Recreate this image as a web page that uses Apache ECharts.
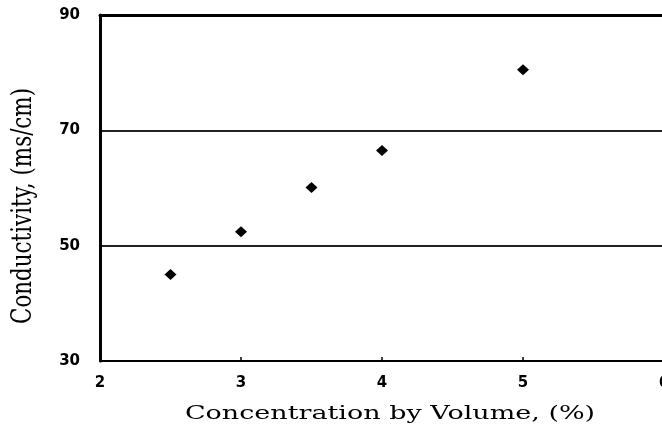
<!DOCTYPE html>
<html>
<head>
<meta charset="utf-8">
<script src="https://cdn.jsdelivr.net/npm/echarts@6/dist/echarts.min.js"></script>
<style>
html,body{margin:0;padding:0;background:#fff;}
#chart{width:662px;height:430px;}
</style>
</head>
<body>
<div id="chart"></div>
<script>
const concentration = [2.5, 3, 3.5, 4, 5];
const conductivity = [45, 52.4, 60.1, 66.5, 80.5];
const xTitle = 'Concentration by Volume, (%)';
const yTitle = 'Conductivity, (ms/cm)';

const points = concentration.map((c, i) => [c, conductivity[i]]);
const chart = echarts.init(document.getElementById('chart'), null, {renderer: 'canvas'});
const labelStyle = {color: '#000', fontFamily: 'DejaVu Sans', fontWeight: 'bold', fontSize: 15};

chart.setOption({
  backgroundColor: '#fff',
  animation: false,
  grid: {left: 100, width: 564, top: 15, bottom: 69, containLabel: false, outerBoundsMode: 'none'},
  xAxis: [{
    type: 'value', min: 2, max: 6, interval: 1, position: 'bottom',
    axisLine: {show: true, lineStyle: {color: '#000', width: 2}},
    axisTick: {show: true, inside: true, length: 4, lineStyle: {color: '#000', width: 1.5}},
    axisLabel: Object.assign({margin: 15}, labelStyle),
    splitLine: {show: false}
  }, {
    type: 'value', min: 2, max: 6, interval: 1, position: 'top',
    axisLine: {show: true, lineStyle: {color: '#000', width: 3}},
    axisTick: {show: false}, axisLabel: {show: false}, splitLine: {show: false}
  }],
  yAxis: {
    type: 'value', min: 30, max: 90, interval: 20,
    axisLine: {show: true, lineStyle: {color: '#000', width: 3}},
    axisTick: {show: false},
    axisLabel: Object.assign({margin: 20}, labelStyle),
    splitLine: {show: true, lineStyle: {color: '#222', width: 2}}
  },
  graphic: [{
    type: 'text', x: 390, y: 414, scaleX: 1.5, scaleY: 1.05,
    style: {text: xTitle, fontFamily: 'DejaVu Serif', fontSize: 18, fill: '#000', align: 'center', verticalAlign: 'middle'}
  }, {
    type: 'text', x: 24, y: 206, rotation: Math.PI / 2, scaleX: 1.02, scaleY: 1.3,
    style: {text: yTitle, fontFamily: 'DejaVu Serif', fontSize: 21, fill: '#000', align: 'center', verticalAlign: 'middle'}
  }],
  series: [{
    type: 'scatter', xAxisIndex: 0,
    data: points,
    symbol: 'diamond', symbolSize: [12, 11],
    itemStyle: {color: '#000', opacity: 1}
  }]
});
</script>
</body>
</html>
